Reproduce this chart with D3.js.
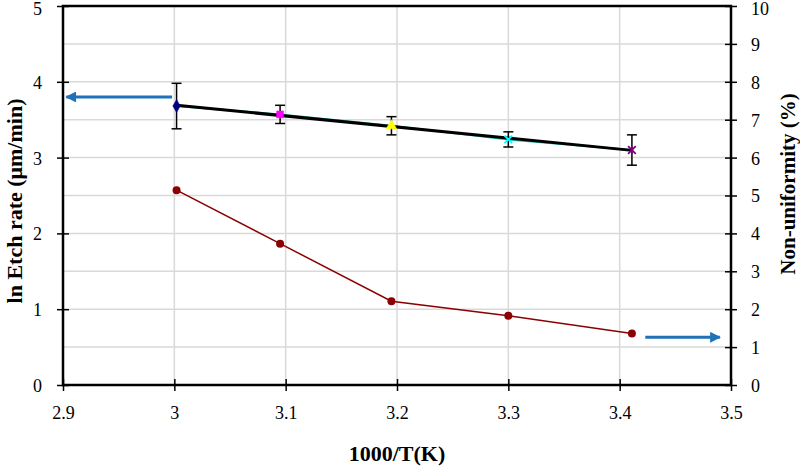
<!DOCTYPE html>
<html><head><meta charset="utf-8">
<script src="https://cdn.jsdelivr.net/npm/d3@7"></script>
<style>body{margin:0;background:#fff}svg{display:block}text{font-family:"Liberation Serif","Times New Roman",serif;fill:#000}</style>
</head><body><svg id="c" width="800" height="468"></svg>
<script>
// ---- data ----
const xVals = [3.002, 3.095, 3.195, 3.300, 3.411];
const lnRate = [3.68, 3.57, 3.42, 3.24, 3.10];
const lnErr = [0.30, 0.12, 0.12, 0.10, 0.20];
const nonUniformity = [5.14, 3.73, 2.21, 1.83, 1.36];
const markerShapes = ["diamond", "square", "triangle", "cross", "star"];
const markerColors = ["#000080", "#FF00FF", "#FFFF00", "#00FFFF", "#800080"];
const xTicks = [2.9, 3.0, 3.1, 3.2, 3.3, 3.4, 3.5];
const xTickLabels = ["2.9", "3", "3.1", "3.2", "3.3", "3.4", "3.5"];
const yLeftTicks = [0, 1, 2, 3, 4, 5];
const yRightTicks = [0, 1, 2, 3, 4, 5, 6, 7, 8, 9, 10];
const leftArrow = {from: [2.998, 3.80], to: [2.903, 3.80]};   // points to left axis
const rightArrow = {from: [3.423, 1.26], to: [3.490, 1.26]};  // points to right axis

const svg = d3.select("#c");
const L = 63, R = 731, T = 6, B = 385;
const x = d3.scaleLinear().domain([2.9, 3.5]).range([L, R]);
const yL = d3.scaleLinear().domain([0, 5]).range([B, T]);
const yR = d3.scaleLinear().domain([0, 10]).range([B, T]);
const serif = '"Liberation Serif","Times New Roman",serif';

// gridlines
const g = svg.append("g");
g.selectAll(".vg").data(xTicks.slice(1, -1)).join("line")
  .attr("x1", d => x(d)).attr("x2", d => x(d)).attr("y1", T).attr("y2", B)
  .attr("stroke", "#d9d9d9").attr("stroke-width", 1.5);
g.selectAll(".hg").data(yRightTicks.slice(1, -1)).join("line")
  .attr("x1", L).attr("x2", R).attr("y1", d => yR(d)).attr("y2", d => yR(d))
  .attr("stroke", "#d9d9d9").attr("stroke-width", 1.5);

// axes
const fs = "18px";
const axL = d3.axisLeft(yL).tickValues(yLeftTicks).tickSize(6).tickPadding(15).tickFormat(d3.format("d"));
const axR = d3.axisRight(yR).tickValues(yRightTicks).tickSize(6).tickPadding(14).tickFormat(d3.format("d"));
const axB = d3.axisBottom(x).tickValues(xTicks).tickSize(6).tickPadding(15).tickFormat((d, i) => xTickLabels[i]);
function style(sel) {
  sel.attr("font-family", serif);
  sel.select(".domain").remove();
  sel.selectAll("line").attr("stroke", "#000").attr("stroke-width", 1.5);
  sel.selectAll("text").style("font-size", fs).style("font-family", serif).attr("fill", "#000");
}
const gl = svg.append("g").attr("transform", `translate(${L},0)`).call(axL).call(style);
gl.selectAll(".tick line").attr("x2", 6).attr("x1", -6);
gl.selectAll("text").attr("dy", "0.36em").attr("y", d => d === 5 ? 2 : 0);
const gr = svg.append("g").attr("transform", `translate(${R},0)`).call(axR).call(style);
gr.selectAll(".tick line").attr("x1", -6).attr("x2", 6);
gr.selectAll("text").attr("dy", "0.36em").attr("y", d => d === 10 ? 2 : 0);
const gb = svg.append("g").attr("transform", `translate(0,${B})`).call(axB).call(style);
gb.selectAll(".tick line").attr("y1", -6).attr("y2", 6);
gb.selectAll("text").attr("dy", "0.71em");

// frame
svg.append("rect").attr("x", L).attr("y", T).attr("width", R - L).attr("height", B - T)
  .attr("fill", "none").attr("stroke", "#000").attr("stroke-width", 2.5);

// axis titles
svg.append("text").attr("x", 397).attr("y", 461).attr("text-anchor", "middle")
  .style("font-size", "22px").style("font-weight", "bold").text("1000/T(K)");
svg.append("text").attr("transform", "translate(22,201) rotate(-90)").attr("text-anchor", "middle")
  .style("font-size", "22px").style("font-weight", "bold").text("ln Etch rate (μm/min)");
svg.append("text").attr("transform", "translate(795,184) rotate(-90)").attr("text-anchor", "middle")
  .style("font-size", "21px").style("font-weight", "bold").text("Non-uniformity (%)");

// non-uniformity series (right axis)
const nu = xVals.map((v, i) => [v, nonUniformity[i]]);
svg.append("path").datum(nu).attr("fill", "none").attr("stroke", "#8B0000").attr("stroke-width", 1.5)
  .attr("d", d3.line().x(d => x(d[0])).y(d => yR(d[1])));
svg.selectAll(".nu").data(nu).join("circle").attr("cx", d => x(d[0])).attr("cy", d => yR(d[1]))
  .attr("r", 4).attr("fill", "#8B0000");

// ln etch rate series
const ln = xVals.map((v, i) => [v, lnRate[i], lnErr[i]]);
svg.append("path").datum(ln).attr("fill", "none").attr("stroke", "#20b2aa").attr("stroke-width", 2)
  .attr("d", d3.line().x(d => x(d[0])).y(d => yL(d[1])));
// linear trendline
const mx = d3.mean(xVals), my = d3.mean(lnRate);
const slope = d3.sum(xVals, (v, i) => (v - mx) * (lnRate[i] - my)) / d3.sum(xVals, v => (v - mx) ** 2);
const fit = v => my + slope * (v - mx);
const ext = d3.extent(xVals);
svg.append("line").attr("x1", x(ext[0])).attr("x2", x(ext[1]))
  .attr("y1", yL(fit(ext[0]))).attr("y2", yL(fit(ext[1])))
  .attr("stroke", "#000").attr("stroke-width", 3);
// error bars
const eb = svg.append("g").attr("stroke", "#000").attr("stroke-width", 1.5);
ln.forEach(d => {
  eb.append("line").attr("x1", x(d[0])).attr("x2", x(d[0])).attr("y1", yL(d[1] - d[2])).attr("y2", yL(d[1] + d[2]));
  [d[1] - d[2], d[1] + d[2]].forEach(v => eb.append("line").attr("x1", x(d[0]) - 5).attr("x2", x(d[0]) + 5)
    .attr("y1", yL(v)).attr("y2", yL(v)));
});
// markers
const symMap = {diamond: d3.symbolDiamond, square: d3.symbolSquare, triangle: d3.symbolTriangle, cross: d3.symbolX, star: d3.symbolX};
ln.forEach((d, i) => {
  const s = markerShapes[i];
  const isLine = s === "cross" || s === "star";
  svg.append("path").attr("transform", `translate(${x(d[0])},${yL(d[1])})`)
    .attr("d", d3.symbol().type(symMap[s]).size(isLine ? 40 : 48)())
    .attr("fill", isLine ? "none" : markerColors[i])
    .attr("stroke", markerColors[i]).attr("stroke-width", isLine ? 1.8 : 0.5);
  if (s === "star") svg.append("line").attr("x1", x(d[0])).attr("x2", x(d[0]))
    .attr("y1", yL(d[1]) - 4).attr("y2", yL(d[1]) + 4).attr("stroke", markerColors[i]).attr("stroke-width", 1.5);
});

// arrows
const blue = "#1F72B8";
svg.append("defs").append("marker").attr("id", "ah").attr("viewBox", "0 0 10 10").attr("refX", 9).attr("refY", 5)
  .attr("markerWidth", 4).attr("markerHeight", 3.6).attr("markerUnits", "strokeWidth").attr("orient", "auto")
  .append("path").attr("d", "M0,0 L10,5 L0,10 z").attr("fill", blue);
function arrow(a, ys) {
  svg.append("line").attr("x1", x(a.from[0])).attr("y1", ys(a.from[1]))
    .attr("x2", x(a.to[0])).attr("y2", ys(a.to[1]))
    .attr("stroke", blue).attr("stroke-width", 3).attr("marker-end", "url(#ah)");
}
arrow(leftArrow, yL);
arrow(rightArrow, yR);
</script></body></html>
